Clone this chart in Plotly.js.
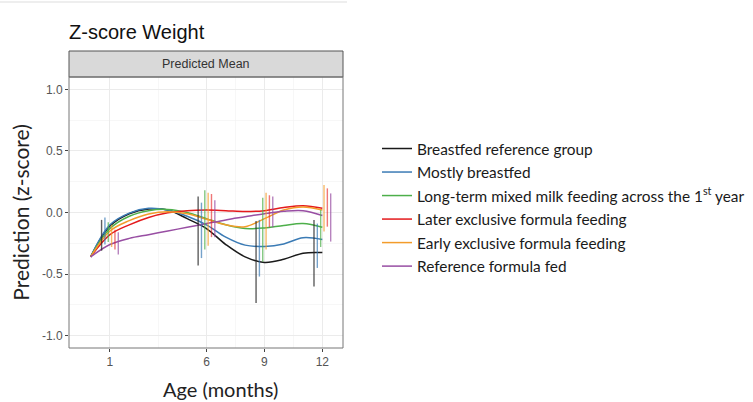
<!DOCTYPE html>
<html>
<head>
<meta charset="utf-8">
<script src="https://cdn.plot.ly/plotly-3.0.1.min.js"></script>
<style>
  html, body { margin: 0; padding: 0; background: #fff; }
  #chart { width: 753px; height: 402px; }
</style>
</head>
<body>
<div id="chart"></div>
<script>
// Predicted mean weight z-score by feeding group, birth to 12 months
const ages = [0, 1, 2, 3, 4, 5, 6, 7, 8, 9, 10, 11, 12];

const groupNames = [
  "Breastfed reference group",
  "Mostly breastfed",
  "Long-term mixed milk feeding across the 1<sup>st</sup> year",
  "Later exclusive formula feeding",
  "Early exclusive formula feeding",
  "Reference formula fed"
];

// Smoothed predicted means
const breastfedRef   = [-0.36, -0.11, -0.01, 0.028, 0.02, -0.05, -0.13, -0.26, -0.36, -0.405, -0.38, -0.33, -0.325];
const mostlyBreast   = [-0.36, -0.10, -0.005, 0.034, 0.02, -0.03, -0.10, -0.20, -0.265, -0.275, -0.255, -0.205, -0.22];
const mixedMilk      = [-0.36, -0.13, -0.03, 0.015, 0.025, 0.0, -0.05, -0.10, -0.13, -0.125, -0.105, -0.09, -0.12];
const laterFormula   = [-0.36, -0.18, -0.10, -0.04, -0.002, 0.015, 0.02, 0.015, 0.008, 0.015, 0.04, 0.055, 0.035];
const earlyFormula   = [-0.36, -0.15, -0.066, -0.012, 0.007, -0.01, -0.055, -0.10, -0.115, -0.05, 0.02, 0.045, 0.02];
const refFormula     = [-0.36, -0.26, -0.21, -0.18, -0.15, -0.12, -0.09, -0.06, -0.035, -0.01, 0.01, 0.015, -0.025];

// Confidence intervals at the measurement visits
const ciAges = [1, 6, 9, 12];
const breastfedRefLow  = [-0.31, -0.43, -0.735, -0.60];
const breastfedRefHigh = [-0.06, 0.13, -0.07, -0.06];
const mostlyBreastLow  = [-0.26, -0.37, -0.52, -0.45];
const mostlyBreastHigh = [-0.04, 0.08, -0.06, -0.09];
const mixedMilkLow     = [-0.24, -0.30, -0.40, -0.28];
const mixedMilkHigh    = [-0.08, 0.18, 0.12, 0.02];
const laterFormulaLow  = [-0.30, -0.20, -0.12, -0.115];
const laterFormulaHigh = [-0.14, 0.15, 0.14, 0.196];
const earlyFormulaLow  = [-0.28, -0.27, -0.30, -0.155];
const earlyFormulaHigh = [-0.10, 0.16, 0.16, 0.223];
const refFormulaLow    = [-0.34, -0.20, -0.12, -0.236];
const refFormulaHigh   = [-0.16, 0.10, 0.13, 0.155];

const xTickVals = [1, 6, 9, 12];
const xTickText = ["1", "6", "9", "12"];
const yTickVals = [-1, -0.5, 0, 0.5, 1];
const yTickText = ["-1.0", "-0.5", "0.0", "0.5", "1.0"];

const series = [
  { name: groupNames[0], y: breastfedRef, lo: breastfedRefLow, hi: breastfedRefHigh, color: "#1a1a1a", bar: "rgba(40,40,40,0.75)",  slot: 0 },
  { name: groupNames[1], y: mostlyBreast, lo: mostlyBreastLow, hi: mostlyBreastHigh, color: "#3b7bb5", bar: "rgba(59,123,181,0.7)", slot: 1 },
  { name: groupNames[2], y: mixedMilk,    lo: mixedMilkLow,    hi: mixedMilkHigh,    color: "#4daf4a", bar: "rgba(77,175,74,0.7)",  slot: 2 },
  { name: groupNames[3], y: laterFormula, lo: laterFormulaLow, hi: laterFormulaHigh, color: "#e41a1c", bar: "rgba(228,26,28,0.6)",  slot: 4 },
  { name: groupNames[4], y: earlyFormula, lo: earlyFormulaLow, hi: earlyFormulaHigh, color: "#f39c2b", bar: "rgba(243,156,43,0.7)", slot: 3 },
  { name: groupNames[5], y: refFormula,   lo: refFormulaLow,   hi: refFormulaHigh,   color: "#984ea3", bar: "rgba(152,78,163,0.7)", slot: 5 }
];

const dodgeStep = 0.173;
const traces = [];

series.forEach((s, i) => {
  traces.push({
    type: "scatter",
    mode: "lines",
    x: ages,
    y: s.y,
    name: s.name,
    legendgroup: "g" + i,
    line: { color: s.color, width: 1.5, shape: "spline", smoothing: 1 },
    hoverinfo: "skip"
  });
});

series.forEach((s, i) => {
  const mid = s.lo.map((l, k) => (l + s.hi[k]) / 2);
  traces.push({
    type: "scatter",
    mode: "markers",
    x: ciAges.map(a => a + (s.slot - 2.5) * dodgeStep),
    y: mid,
    showlegend: false,
    legendgroup: "g" + i,
    marker: { size: 1, color: "rgba(0,0,0,0)" },
    error_y: {
      type: "data",
      symmetric: false,
      array: s.hi.map((h, k) => h - mid[k]),
      arrayminus: mid.map((m, k) => m - s.lo[k]),
      width: 0,
      thickness: 1.4,
      color: s.bar
    },
    hoverinfo: "skip"
  });
});

const plotL = 69, plotR = 343, plotT = 77, plotB = 348;
const W = 753, H = 402;
const pw = plotR - plotL, ph = plotB - plotT;
const px = v => (v - plotL) / pw;
const py = v => (plotB - v) / ph;

const tickFont = { family: "Liberation Sans, Arial, sans-serif", size: 12, color: "#555" };

const layout = {
  width: W,
  height: H,
  margin: { l: plotL, r: W - plotR, t: plotT, b: H - plotB, pad: 0, autoexpand: false },
  paper_bgcolor: "#ffffff",
  plot_bgcolor: "#ffffff",
  showlegend: true,
  title: {
    text: "Z-score Weight",
    font: { family: "Liberation Sans, Arial, sans-serif", size: 20, color: "#111" },
    x: plotL / W,
    xanchor: "left",
    xref: "container",
    y: 1 - 32 / H,
    yanchor: "middle",
    yref: "container"
  },
  xaxis: {
    range: [-1.12, 13.07],
    tickmode: "array",
    tickvals: xTickVals,
    ticktext: xTickText,
    ticks: "outside",
    ticklen: 3,
    tickwidth: 1,
    tickcolor: "#444",
    tickfont: tickFont,
    showgrid: true,
    gridcolor: "#ebebeb",
    gridwidth: 1,
    minor: { tickvals: [3.5, 7.5, 10.5], showgrid: true, gridcolor: "#f2f2f2", gridwidth: 0.6, ticks: "" },
    zeroline: false,
    showline: false,
    fixedrange: true
  },
  yaxis: {
    range: [-1.1, 1.1],
    tickmode: "array",
    tickvals: yTickVals,
    ticktext: yTickText,
    ticks: "outside",
    ticklen: 3,
    tickwidth: 1,
    tickcolor: "#444",
    tickfont: tickFont,
    showgrid: true,
    gridcolor: "#ebebeb",
    gridwidth: 1,
    minor: { tickvals: [-0.75, -0.25, 0.25, 0.75], showgrid: true, gridcolor: "#f2f2f2", gridwidth: 0.6, ticks: "" },
    zeroline: false,
    showline: false,
    title: {
      text: "Prediction (z-score)",
      font: { family: "Lato, Noto Sans, sans-serif", size: 21, color: "#222" },
      standoff: 6
    },
    fixedrange: true
  },
  legend: {
    x: px(377),
    xanchor: "left",
    y: py(132),
    yanchor: "top",
    traceorder: "grouped",
    tracegroupgap: 0.5,
    font: { family: "Lato, Noto Sans, sans-serif", size: 15.4, color: "#1a1a1a" },
    bgcolor: "rgba(0,0,0,0)",
    borderwidth: 0
  },
  shapes: [
    // faint rule across the top
    { type: "line", xref: "paper", yref: "paper", x0: px(0), x1: px(347), y0: py(2), y1: py(2),
      line: { color: "#dddddd", width: 1 } },
    // facet strip
    { type: "rect", xref: "paper", yref: "paper", x0: 0, x1: 1, y0: 1, y1: py(51),
      fillcolor: "#d9d9d9", line: { color: "#555", width: 1 }, layer: "above" },
    // panel border
    { type: "rect", xref: "paper", yref: "paper", x0: 0, x1: 1, y0: 0, y1: 1,
      fillcolor: "rgba(0,0,0,0)", line: { color: "#777", width: 1 }, layer: "above" }
  ],
  annotations: [
    { text: "Predicted Mean", xref: "paper", yref: "paper", x: 0.5, y: py(64),
      xanchor: "center", yanchor: "middle", showarrow: false,
      font: { family: "Liberation Sans, Arial, sans-serif", size: 12.5, color: "#333" } },
    { text: "Age (months)", xref: "paper", yref: "paper", x: px(220), y: py(389),
      xanchor: "center", yanchor: "middle", showarrow: false,
      font: { family: "Lato, Noto Sans, sans-serif", size: 20, color: "#222" } }
  ]
};

Plotly.newPlot("chart", traces, layout, { displayModeBar: false, staticPlot: true });
</script>
</body>
</html>
